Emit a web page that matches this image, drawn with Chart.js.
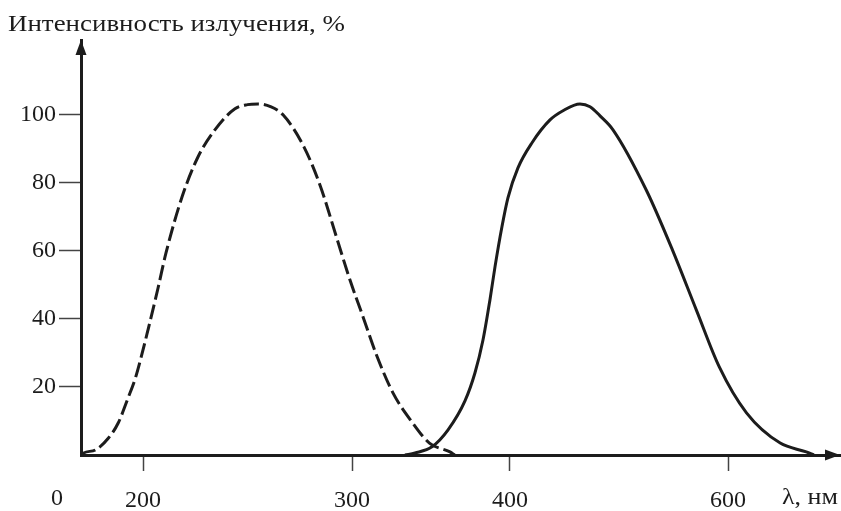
<!DOCTYPE html>
<html>
<head>
<meta charset="utf-8">
<script src="https://cdn.jsdelivr.net/npm/chart.js@4/dist/chart.umd.min.js"></script>
<style>
  body { margin: 0; background: #fff; }
  canvas { display: block; }
</style>
</head>
<body>
<canvas id="spectrum" width="841" height="511"></canvas>
<script>
// wavelength, nm / intensity, %
const dashedNm = [170.3, 171.3, 177, 183.3, 188, 192.8, 196.2, 199, 202.4, 207.2, 211, 218.7, 226.3, 234.4, 244, 250, 255, 261, 267, 277, 285, 293, 299, 307, 316, 326, 337, 349, 362, 365];
const dashedVal = [0, 0.6, 1.5, 5, 9.4, 16.8, 22.4, 28.5, 36.8, 49.1, 59.4, 75.9, 87.6, 95.6, 101.8, 103, 103.2, 102.4, 100, 90.6, 78.8, 63.2, 51.5, 40.6, 28.8, 18.2, 10.3, 3.5, 0.9, 0];

const solidNm = [333.5, 339.9, 350.6, 360.8, 371.5, 377.8, 382.9, 387.3, 390.5, 394.9, 398.7, 407.3, 420.2, 436.7, 448.6, 464.2, 473.4, 482.6, 494.5, 525, 549, 571, 592, 617, 648, 672, 679];
const solidVal = [0, 0.6, 2.4, 7.4, 15.9, 24.1, 33.8, 45.6, 55.3, 67.1, 75.6, 84.4, 91.8, 98.5, 101.2, 103.2, 102.4, 99.7, 95.6, 77.9, 60.3, 42.6, 25.9, 12.4, 3.5, 0.9, 0];

const xTickNm = [200, 300, 400, 600];
const yTicks = [20, 40, 60, 80, 100];

// the wavelength axis in the original is not uniform: piecewise map nm -> axis units
const axisNmAnchors = [170, 200, 300, 400, 600, 703];
const axisUnitAnchors = [0, 62, 271, 429, 647, 759];

function toAxis(nm) {
    for (let i = 1; i < axisNmAnchors.length; i++) {
        if (nm <= axisNmAnchors[i] || i === axisNmAnchors.length - 1) {
            const a = axisNmAnchors[i - 1], b = axisNmAnchors[i];
            const ua = axisUnitAnchors[i - 1], ub = axisUnitAnchors[i];
            return ua + (nm - a) * (ub - ua) / (b - a);
        }
    }
}

const ink = "#1c1c1c";
const serif = "'Liberation Serif', 'DejaVu Serif', serif";

// draw text squeezed/stretched to a given width
function fitText(ctx, text, x, y, width) {
    const w = ctx.measureText(text).width;
    ctx.save();
    ctx.translate(x, y);
    ctx.scale(width / w, 1);
    ctx.fillText(text, 0, 0);
    ctx.restore();
}

const axisDecor = {
    id: "axisDecor",
    afterDraw(chart) {
        const { ctx, chartArea: a } = chart;
        ctx.save();
        ctx.fillStyle = ink;
        // arrow heads
        ctx.beginPath();
        ctx.moveTo(a.right, a.bottom);
        ctx.lineTo(a.right - 15, a.bottom - 5.5);
        ctx.lineTo(a.right - 15, a.bottom + 5.5);
        ctx.closePath();
        ctx.fill();
        ctx.beginPath();
        ctx.moveTo(a.left, a.top);
        ctx.lineTo(a.left - 5.5, a.top + 15);
        ctx.lineTo(a.left + 5.5, a.top + 15);
        ctx.closePath();
        ctx.fill();
        // texts
        ctx.font = "24px " + serif;
        ctx.textBaseline = "middle";
        ctx.textAlign = "left";
        fitText(ctx, "Интенсивность излучения, %", 8, 25, 337);
        fitText(ctx, "λ, нм", 782, 498, 56);
        ctx.textAlign = "center";
        ctx.fillText("0", a.left - 24, 499);
        ctx.restore();
    }
};

new Chart(document.getElementById("spectrum").getContext("2d"), {
    type: "line",
    data: {
        datasets: [
            {
                label: "dashed",
                data: dashedNm.map((nm, i) => ({ x: toAxis(nm), y: dashedVal[i] })),
                borderColor: ink,
                borderWidth: 3,
                borderDash: [15, 5],
                pointRadius: 0,
                cubicInterpolationMode: "monotone",
                fill: false
            },
            {
                label: "solid",
                data: solidNm.map((nm, i) => ({ x: toAxis(nm), y: solidVal[i] })),
                borderColor: ink,
                borderWidth: 3,
                pointRadius: 0,
                cubicInterpolationMode: "monotone",
                fill: false
            }
        ]
    },
    options: {
        responsive: false,
        devicePixelRatio: 1,
        animation: false,
        layout: { padding: { top: 40, right: 1, left: 0, bottom: 0 } },
        plugins: {
            legend: { display: false },
            tooltip: { enabled: false }
        },
        scales: {
            x: {
                type: "linear",
                min: axisUnitAnchors[0],
                max: axisUnitAnchors[axisUnitAnchors.length - 1],
                afterBuildTicks: scale => {
                    scale.ticks = xTickNm.map(nm => ({ value: toAxis(nm) }));
                },
                afterFit: scale => { scale.height = 56; },
                ticks: {
                    autoSkip: false,
                    maxRotation: 0,
                    padding: 15,
                    color: ink,
                    font: { family: serif, size: 24 },
                    callback: (value, index) => String(xTickNm[index])
                },
                grid: { drawOnChartArea: false, tickLength: 16, tickColor: "#444", tickWidth: 1.5 },
                border: { color: ink, width: 3 }
            },
            y: {
                min: 0,
                max: 122,
                afterBuildTicks: scale => {
                    scale.ticks = yTicks.map(v => ({ value: v }));
                },
                afterFit: scale => { scale.width = 81; },
                ticks: {
                    padding: 3,
                    color: ink,
                    font: { family: serif, size: 24 }
                },
                grid: { drawOnChartArea: false, tickLength: 22, tickColor: "#444", tickWidth: 1.5 },
                border: { color: ink, width: 3 }
            }
        }
    },
    plugins: [axisDecor]
});
</script>
</body>
</html>
